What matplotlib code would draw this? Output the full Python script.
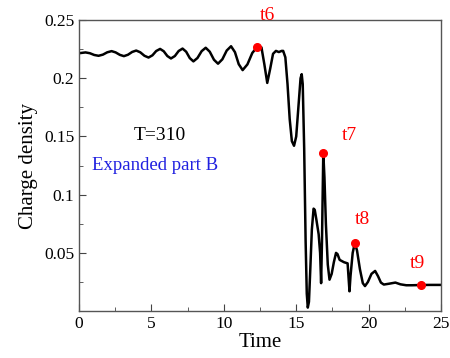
import numpy as np
import matplotlib
matplotlib.use("Agg")
import matplotlib.pyplot as plt
from matplotlib.ticker import MultipleLocator

# charge density vs time
time = [0.0, 0.45, 0.75, 1.05, 1.35, 1.65, 1.95, 2.25, 2.53, 2.82, 3.1, 3.38, 3.67, 3.95,
        4.23, 4.52, 4.8, 5.07, 5.33, 5.6, 5.85, 6.1, 6.35, 6.62, 6.88, 7.15, 7.4, 7.65,
        7.9, 8.18, 8.47, 8.75, 9.03, 9.32, 9.6, 9.9, 10.2, 10.5, 10.77, 11.03, 11.3,
        11.63, 11.97, 12.3, 12.6, 12.8, 13.0, 13.2, 13.4, 13.6, 13.8, 14.0, 14.1,
        14.25, 14.4, 14.55, 14.7, 14.85, 15.0, 15.15, 15.3, 15.38, 15.45, 15.55, 15.65,
        15.73, 15.8, 15.88, 15.97, 16.08, 16.2, 16.28, 16.4, 16.55, 16.65, 16.72, 16.78,
        16.87, 16.95, 17.05, 17.18, 17.3, 17.45, 17.6, 17.75, 17.85, 18.0, 18.3, 18.55,
        18.62, 18.68, 18.75, 18.9, 19.05, 19.2, 19.4, 19.6, 19.75, 19.95, 20.2, 20.45,
        20.65, 20.85, 21.05, 21.4, 21.85, 22.2, 22.6, 23.0, 23.6, 24.2, 25.0]
density = [0.2215, 0.2222, 0.2215, 0.2200, 0.2193, 0.2203, 0.2223, 0.2233, 0.2222, 0.2201,
           0.2190, 0.2202, 0.2226, 0.2238, 0.2223, 0.2193, 0.2178, 0.2197, 0.2234, 0.2252,
           0.2232, 0.2191, 0.2170, 0.2191, 0.2234, 0.2255, 0.2228, 0.2173, 0.2145, 0.2174,
           0.2233, 0.2262, 0.2228, 0.2159, 0.2125, 0.2163, 0.2238, 0.2275, 0.2224, 0.2121,
           0.2070, 0.2119, 0.2218, 0.2267, 0.2265, 0.2120, 0.1960, 0.2080, 0.2210, 0.2235,
           0.2225, 0.2235, 0.2235, 0.2180, 0.1950, 0.1650, 0.1460, 0.1420, 0.1500, 0.1750,
           0.2000, 0.2035, 0.1950, 0.1400, 0.0600, 0.0150, 0.0030, 0.0080, 0.0350, 0.0700,
           0.0880, 0.0870, 0.0780, 0.0660, 0.0500, 0.0240, 0.0600, 0.1360, 0.1150, 0.0750,
           0.0400, 0.0270, 0.0320, 0.0420, 0.0500, 0.0490, 0.0440, 0.0420, 0.0410, 0.0280,
           0.0170, 0.0300, 0.0500, 0.0586, 0.0520, 0.0360, 0.0240, 0.0215, 0.0250, 0.0320,
           0.0345, 0.0300, 0.0245, 0.0228, 0.0235, 0.0245, 0.0230, 0.0222, 0.0222, 0.0224,
           0.0225, 0.0225]

# marked instants
mark_names = ["t6", "t7", "t8", "t9"]
mark_t = [12.3, 16.87, 19.05, 23.6]
mark_y = [0.2267, 0.136, 0.0586, 0.0224]
label_t = [13.0, 18.7, 19.55, 23.35]
label_y = [0.2535, 0.1505, 0.0785, 0.0405]

plt.rcParams['font.family'] = ['Liberation Serif', 'DejaVu Serif']

fig = plt.figure(figsize=(4.5, 3.58), dpi=100)
ax = fig.add_axes([0.1756, 0.131, 0.8044, 0.813])

ax.plot(time, density, color='black', lw=1.8, solid_joinstyle='round')
ax.plot(mark_t, mark_y, 'o', color='red', ms=5.5, zorder=3, clip_on=False)
for name, x, y in zip(mark_names, label_t, label_y):
    ax.text(x, y, name, color='red', fontsize=14, ha='center', va='center', clip_on=False)

ax.text(5.6, 0.151, "T=310", fontsize=14, ha='center', va='center')
ax.text(5.25, 0.125, "Expanded part B", fontsize=13.5, color='#2020e0', ha='center', va='center')

ax.set_xlim(0, 25)
ax.set_ylim(0, 0.25)
ax.set_xticks([0, 5, 10, 15, 20, 25])
ax.set_xticklabels(["0", "5", "10", "15", "20", "25"])
ax.set_yticks([0.05, 0.1, 0.15, 0.2, 0.25])
ax.set_yticklabels(["0.05", "0.1", "0.15", "0.2", "0.25"])
ax.xaxis.set_minor_locator(MultipleLocator(2.5))
ax.yaxis.set_minor_locator(MultipleLocator(0.025))
ax.tick_params(which='both', direction='in', labelsize=12.5, color='#444444')
ax.tick_params(which='major', length=5)
ax.tick_params(which='minor', length=3)
for s in ax.spines.values():
    s.set_color('#555555')
    s.set_linewidth(1.0)

ax.set_xlabel("Time", fontsize=15, labelpad=1)
ax.set_ylabel("Charge density", fontsize=15, labelpad=4)

fig.savefig("out.png", dpi=100)
